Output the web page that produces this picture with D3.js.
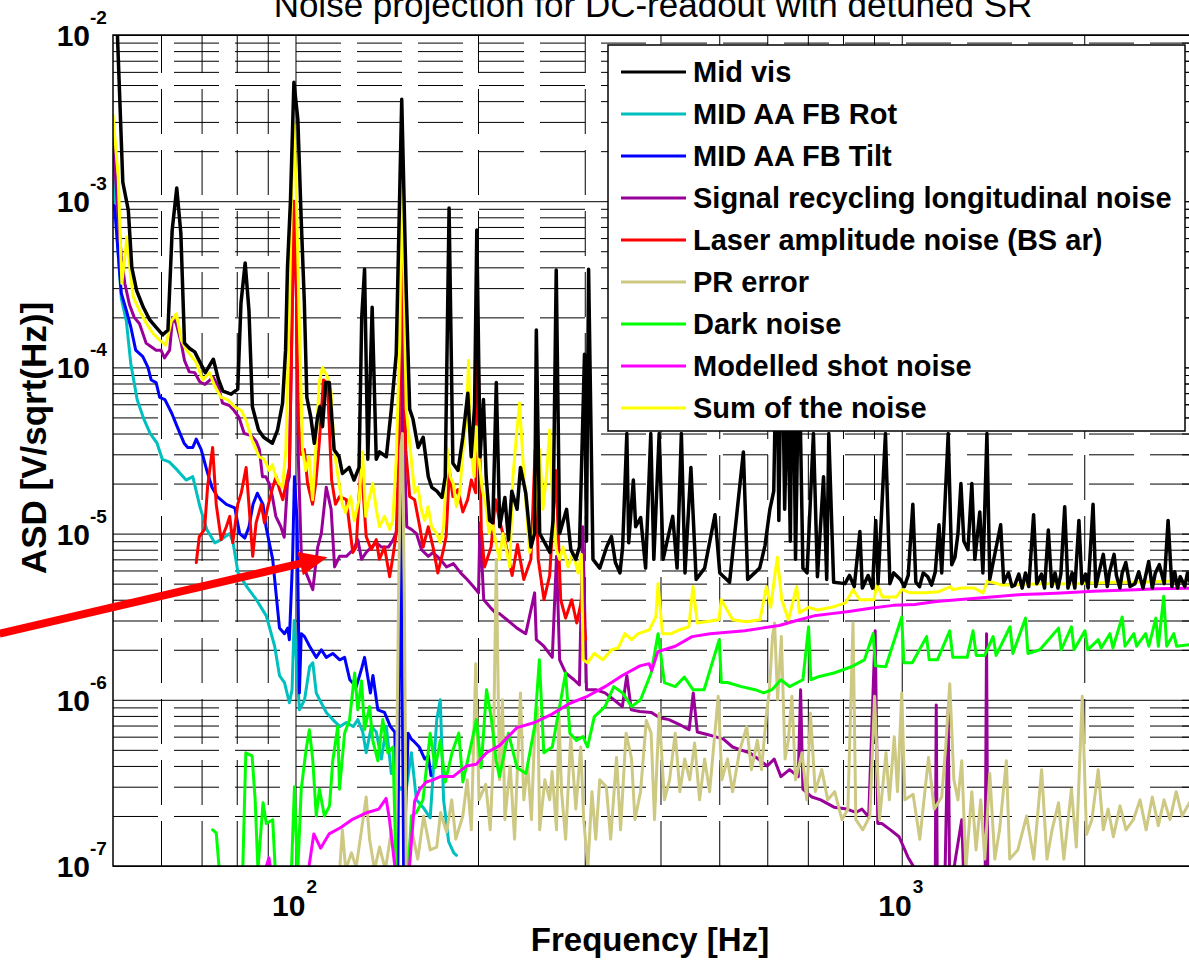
<!DOCTYPE html>
<html>
<head>
<meta charset="utf-8">
<script src="https://cdn.jsdelivr.net/npm/d3@7"></script>
<style>
  body { margin: 0; background: #fff; }
  svg { display: block; }
  text { font-family: "Liberation Sans", Arial, sans-serif; }
</style>
</head>
<body>
<script>
// axis limits and tick values
var xDomain = [50, 3000];
var yDomain = [1e-7, 1e-2];
var xMajor = [100, 1000];
var xMajorExp = ["2", "3"];
var xMinor = [60, 70, 80, 90, 200, 300, 400, 500, 600, 700, 800, 900, 2000, 3000];
var yMajor = [1e-7, 1e-6, 1e-5, 1e-4, 1e-3, 1e-2];
var yMajorExp = ["-7", "-6", "-5", "-4", "-3", "-2"];
var yMinorMult = [2, 3, 4, 5, 6, 7, 8, 9];

var title = "Noise projection for DC-readout with detuned SR";
var xLabel = "Frequency [Hz]";
var yLabel = "ASD [V/sqrt(Hz)]";

// series, [frequency Hz, ASD V/sqrt(Hz)]
var midVis = [[50.5,2e-2],[51.9,1.3e-3],[53.0,8.8e-4],[53.7,4.0e-4],[54.7,2.9e-4],[56.1,2.3e-4],[57.5,1.93e-4],[59.0,1.73e-4],[60.4,1.57e-4],[61.6,1.68e-4],[62.6,6.7e-4],[63.7,1.2e-3],[64.7,6.4e-4],[65.6,1.4e-4],[66.9,1.3e-4],[68.2,1.24e-4],[69.6,1.07e-4],[71.0,9.3e-5],[73.2,1.12e-4],[74.6,8.5e-5],[75.9,7.2e-5],[78.3,6.9e-5],[80.3,7.4e-5],[81.3,2.44e-4],[82.6,4.25e-4],[83.8,2.2e-4],[84.9,5.8e-5],[86.9,4.2e-5],[88.6,3.8e-5],[91.6,3.5e-5],[93.4,4.2e-5],[95.2,6.1e-5],[96.3,1.27e-4],[97.0,4.0e-4],[98.1,1.0e-3],[99.4,5.2e-3],[100.9,3.1e-3],[102.2,7.7e-4],[103.4,2.5e-4],[104.4,6.6e-5],[106.0,5.0e-5],[107.4,3.5e-5],[108.7,5.0e-5],[109.7,5.8e-5],[110.8,4.4e-5],[112.2,8.1e-5],[113.7,8.1e-5],[115.8,3.2e-5],[118.0,2.9e-5],[119.5,2.3e-5],[122.6,2.5e-5],[124.9,2.1e-5],[127.3,2.5e-5],[128.6,2.0e-4],[130,3.9e-4],[131.6,2.8e-5],[133.8,2.3e-4],[135.9,2.8e-5],[137.6,3.1e-5],[141.2,2.9e-5],[143.9,5.6e-5],[146.6,1.2e-4],[149.7,4.1e-3],[152.3,2.8e-4],[154.3,5.6e-5],[156.2,4.9e-5],[159.3,3.3e-5],[162.4,3.8e-5],[165.6,2.2e-5],[167.8,1.9e-5],[171.1,1.8e-5],[174.4,1.65e-5],[176.6,2.2e-5],[179.2,9.1e-4],[181.8,2.65e-5],[185.4,2.4e-5],[188.8,3.8e-5],[192.4,7.0e-5],[194.9,2.9e-5],[197.4,5.8e-5],[199.1,6.7e-4],[201.6,2.9e-5],[204.2,6.4e-5],[206.3,2.2e-5],[209,1.2e-5],[211.6,1.16e-5],[214.4,8.1e-5],[217.2,1.1e-5],[221.5,1.65e-5],[224.5,9.2e-6],[227.4,1.8e-5],[232,1.4e-5],[235,2.5e-5],[239.8,1.75e-5],[244.6,8.3e-6],[247.9,1.0e-5],[249.6,1.68e-4],[252.8,1.0e-5],[257.8,8.8e-6],[262.8,7.7e-6],[266,1.2e-5],[269.2,3.85e-4],[272.7,1.0e-5],[280,1.4e-5],[284.6,8.0e-6],[290,7.0e-6],[294,8.3e-6],[299.7,1.2e-4],[302,9e-6],[304.4,3.9e-4],[309.5,7.0e-6],[317.6,6.2e-6],[326,8.3e-6],[332,9.6e-6],[337,6.7e-6],[343,5.8e-6],[346.4,8.3e-6],[352,4.0e-5],[354.5,8.8e-6],[360.8,2.1e-5],[364,1.1e-5],[371,1.25e-5],[378,6.2e-6],[385.5,4.0e-5],[390,7.0e-6],[398,4.0e-5],[404,7.0e-6],[419,1.27e-5],[426,6.2e-6],[433,4.0e-5],[439,5.8e-6],[449,2.5e-5],[458,5.3e-6],[473,6.2e-6],[492,1.3e-5],[501,5.8e-6],[520,5.1e-6],[548,3.1e-5],[557,5.3e-6],[583,6.2e-6],[595,8.5e-6],[606,1.4e-5],[615,1.8e-5],[622,2e-4],[627,1.2e-5],[634,2.5e-4],[641,1.4e-5],[648,8.3e-5],[655,9e-6],[661,2.5e-4],[668,7e-6],[677,1.3e-4],[687,6.2e-6],[698,5.8e-6],[715,4e-5],[726,5.5e-6],[743,2.2e-5],[752,5.3e-6],[758,4e-5],[772,5.1e-6],[806,5e-6],[820,5.6e-6],[835,4.8e-6],[853,1.03e-5],[861,4.7e-6],[880,5.6e-6],[895,4.7e-6],[906,1.2e-5],[914,5e-6],[940,4e-5],[956,5e-6],[970,5.8e-6],[995,5.3e-6],[1010,4.8e-6],[1025,5.6e-6],[1043,1.5e-5],[1055,5.1e-6],[1070,4.8e-6],[1085,5.8e-6],[1104,5.5e-6],[1120,4.9e-6],[1136,5.9e-6],[1152,1.13e-5],[1164,5.8e-6],[1193,4e-5],[1209,6.5e-6],[1224,7.2e-6],[1238,1e-5],[1252,2e-5],[1266,9e-6],[1286,8e-6],[1305,2e-5],[1320,7e-6],[1345,1.35e-5],[1361,5.8e-6],[1382,4e-5],[1397,5.3e-6],[1456,1.13e-5],[1473,5.1e-6],[1500,5.8e-6],[1520,4.8e-6],[1536,4.9e-6],[1560,5.7e-6],[1580,4.7e-6],[1600,5.8e-6],[1620,4.8e-6],[1650,1.3e-5],[1670,5e-6],[1700,5.7e-6],[1720,4.7e-6],[1745,1.05e-5],[1768,4.8e-6],[1790,5.8e-6],[1810,4.7e-6],[1830,5.7e-6],[1857,1.45e-5],[1880,4.7e-6],[1910,5.8e-6],[1930,4.7e-6],[1960,1.2e-5],[1982,5e-6],[2010,5.7e-6],[2030,4.7e-6],[2068,1.5e-5],[2090,4.8e-6],[2110,5.6e-6],[2150,7.5e-6],[2183,4.8e-6],[2200,5.8e-6],[2240,7.5e-6],[2260,5.6e-6],[2290,4.7e-6],[2310,5.8e-6],[2342,6.7e-6],[2380,4.8e-6],[2425,5e-6],[2460,5.9e-6],[2500,4.7e-6],[2555,6.8e-6],[2590,4.7e-6],[2620,5.8e-6],[2660,6.5e-6],[2710,5e-6],[2750,1.2e-5],[2790,4.8e-6],[2820,5.9e-6],[2850,4.7e-6],[2880,5.5e-6],[2930,4.8e-6],[2960,5.8e-6],[3000,4.9e-6]];

var aaRot = [[50,2.0e-3],[50.6,8.3e-4],[51.1,4.3e-4],[51.6,2.6e-4],[52.6,1.9e-4],[53.5,1.05e-4],[54.8,6.4e-5],[56.2,4.9e-5],[57.6,4.0e-5],[59.1,3.5e-5],[60.3,2.8e-5],[61.9,2.7e-5],[63.9,2.4e-5],[66.0,2.1e-5],[67.7,2.2e-5],[69.6,1.44e-5],[71.4,1.06e-5],[73.6,8.8e-6],[75.4,9.2e-6],[77.9,1.0e-5],[78.9,8.8e-6],[80.4,5.8e-6],[83.1,4.8e-6],[86.2,4.0e-6],[89.5,3.2e-6],[92.4,2.1e-6],[94.1,1.4e-6],[95.9,1.27e-6],[97.7,9.6e-7],[98.7,1.15e-6],[99.5,3.0e-6],[101.5,8.7e-7],[103.5,1.0e-6],[105.5,1.58e-6],[106.8,1.67e-6],[108.2,1.1e-6],[109.6,1.0e-6],[112.4,8.4e-7],[115.2,7.6e-7],[118.4,6.9e-7],[121.3,7.3e-7],[124.5,6.9e-7],[126.7,7.6e-7],[129.1,6.4e-7],[130.8,4.8e-7],[133.4,6.9e-7],[135.9,6.4e-7],[138.6,4.4e-7],[141.2,6.9e-7],[143.9,3.6e-7],[145.8,3.6e-7],[148.5,2.9e-7],[152.3,2.9e-7],[155.3,4.8e-7],[158.3,2.5e-7],[162.4,2.25e-7],[166.8,1.95e-7],[171,7.6e-7],[173.3,1.0e-6],[175.5,2.5e-7],[178.9,1.4e-7],[182.4,1.2e-7],[184.3,1.16e-7]];

var aaTilt = [[50,9.5e-4],[50.3,9.3e-4],[50.9,5.3e-4],[51.6,2.8e-4],[52.6,2.2e-4],[53.5,1.75e-4],[54.5,1.27e-4],[56,1.16e-4],[57.1,1.0e-4],[57.8,8.4e-5],[58.9,8.1e-5],[59.7,6.6e-5],[60.9,6.4e-5],[62.5,5.3e-5],[63.8,4.4e-5],[65.5,3.5e-5],[66.4,3.3e-5],[67.7,3.3e-5],[68.6,3.7e-5],[69.9,3.2e-5],[71.4,2.4e-5],[72.8,1.9e-5],[74.3,1.67e-5],[76.9,1.5e-5],[79.4,1.43e-5],[80.9,1.0e-5],[82.5,9.4e-6],[83.8,1.1e-5],[85.1,1.5e-5],[86.5,1.75e-5],[88.4,1.5e-5],[89.4,1.1e-5],[91.7,7.0e-6],[94.1,2.7e-6],[95.9,2.5e-6],[97.1,2.7e-6],[97.7,2.3e-6],[98.9,7e-6],[99.6,2.2e-5],[100.6,1.2e-5],[101.5,1.1e-6],[102.2,2.5e-6],[103.5,2.4e-6],[105.5,2.1e-6],[108.2,1.8e-6],[110.3,2.0e-6],[112.4,1.8e-6],[115.2,1.9e-6],[118.3,1.74e-6],[120.5,1.8e-6],[122.9,1.32e-6],[126.0,1.2e-6],[128.6,1.55e-6],[130,1.8e-6],[132.9,1.1e-6],[134.2,1.4e-6],[136.7,8.7e-7],[140.2,8.4e-7],[143.4,6.9e-7],[145.8,6.4e-7],[147.5,9.5e-8],[149.1,2.4e-5],[150.8,9.5e-8],[153.4,6.3e-7],[155.3,5.8e-7],[157,5.6e-7],[160,5.2e-7],[163.4,4.4e-7],[165.6,4.6e-7],[167.3,3.5e-7]];

var srLong = [[50,2.4e-3],[51,8.0e-4],[51.6,4.7e-4],[52.3,3.2e-4],[53.2,2.4e-4],[54.2,2.0e-4],[55.3,1.83e-4],[56.7,1.4e-4],[57.8,1.33e-4],[58.9,1.27e-4],[60.0,1.27e-4],[60.8,1.14e-4],[62,1.27e-4],[62.7,2.0e-4],[63.6,1.83e-4],[64.8,1.4e-4],[65.6,1.1e-4],[66.8,9.4e-5],[68.2,9.3e-5],[69.5,8.2e-5],[70.9,7.9e-5],[72.3,8.4e-5],[73.1,8.8e-5],[74.6,7.7e-5],[75.8,6.1e-5],[77.8,5.9e-5],[79.2,5.5e-5],[80.7,5.0e-5],[82.3,4.0e-5],[84.4,3.9e-5],[86.1,3.6e-5],[87.2,3.2e-5],[88.2,2.2e-5],[89.3,2.2e-5],[90.5,2.0e-5],[91.6,1.67e-5],[92.8,1.27e-5],[94.6,1.1e-5],[95.8,9.5e-6],[97,2.0e-5],[97.7,2.2e-5],[98.5,1.27e-4],[99.4,1.0e-3],[100.4,2.5e-4],[101.1,2.8e-5],[102.2,7.7e-6],[104.1,5.8e-6],[106.8,4.6e-6],[108.8,8.3e-6],[110.3,1.0e-5],[112.4,1.9e-5],[114.5,1.4e-5],[116,6.3e-6],[118.2,7.3e-6],[121.3,7.3e-6],[123.6,7.8e-6],[125.2,8.3e-6],[126.7,9.2e-6],[128.5,7.0e-6],[130.8,7.7e-6],[133.4,8.3e-6],[136,8.8e-6],[138.6,8.3e-6],[142.3,8.3e-6],[145.0,9.2e-6],[147.8,1.1e-5],[149.7,4.0e-5],[150.5,2.5e-4],[151.6,2.4e-5],[152.6,1.1e-5],[155.3,1.06e-5],[158.3,1.0e-5],[161.4,8e-6],[165.6,7.3e-6],[168.6,7.7e-6],[173.3,7.0e-6],[177.5,6.3e-6],[182.2,6.6e-6],[187.2,5.8e-6],[191.9,5.3e-6],[196.5,4.8e-6],[200.4,4.4e-6],[201.5,1.16e-5],[204.4,4.0e-6],[209.5,3.6e-6],[214.4,3.3e-6],[217,3.3e-6],[224,3.0e-6],[231.9,2.7e-6],[239.8,2.5e-6],[248,4.4e-6],[249.6,2.3e-6],[256.8,2.1e-6],[265.2,1.8e-6],[269.5,7.3e-6],[272.7,1.74e-6],[279,1.45e-6],[288,1.32e-6],[294,1.23e-6],[297.8,1.1e-5],[302,1.15e-6],[313,1.15e-6],[324,1.1e-6],[335,1.0e-6],[346,9.1e-7],[352,1.4e-6],[358,8.7e-7],[370,8.5e-7],[386,8.4e-7],[399,7.8e-7],[413,7.6e-7],[430,7.1e-7],[446,6.6e-7],[453,1.1e-6],[460,6.4e-7],[476,6.2e-7],[492,6.0e-7],[508,5.8e-7],[526,5.2e-7],[542,5.0e-7],[561,4.8e-7],[580,4.4e-7],[600,4.0e-7],[616,4.4e-7],[632,3.45e-7],[653,3.8e-7],[675,3.45e-7],[681,1.15e-6],[687,2.9e-7],[711,2.6e-7],[735,2.5e-7],[773,2.26e-7],[812,2.2e-7],[840,2.1e-7],[860,2.2e-7],[882,1.97e-7],[904,2.6e-6],[913,1.8e-7],[927,1.8e-7],[958,1.65e-7],[990,1.5e-7],[1024,1.13e-7],[1050,9.7e-8],[1070,8e-8],[1112,6e-8],[1136,9.5e-8],[1140,9.3e-7],[1145,6e-8],[1178,8e-8],[1193,8.7e-7],[1200,6e-8],[1224,1.06e-7],[1256,1.9e-7],[1266,8e-8],[1372,6e-8],[1380,2.5e-6],[1387,6e-8],[1455,6e-8]];

var laserAmp = [[68.6,6.7e-6],[69.4,9.6e-6],[70.8,1.06e-5],[71.6,1.9e-5],[73,3.3e-5],[74,1.5e-5],[75.4,9.2e-6],[76.9,1.1e-5],[77.9,1.27e-5],[78.8,8.8e-6],[80.3,1.5e-5],[81.4,1.76e-5],[82.9,2.5e-5],[83.9,1.4e-5],[85,7.3e-6],[86.1,1.16e-5],[87.8,1.5e-5],[88.9,1.16e-5],[90,1.45e-5],[91.7,1.9e-5],[92.9,2.2e-5],[94.1,1.84e-5],[95.3,1.6e-5],[96.5,2.0e-5],[97.7,2.5e-5],[98.5,1.27e-4],[99.4,1.0e-3],[100.4,2.5e-4],[101.1,4.8e-5],[102.3,3.0e-5],[103.4,3.2e-5],[104.7,2.0e-5],[106.7,1.5e-5],[108,2.0e-5],[109.5,3.6e-5],[111.2,8.4e-5],[112.9,8.0e-5],[114.7,2.1e-5],[116.4,1.5e-5],[118.2,1.67e-5],[121.3,1.6e-5],[124.3,7.7e-6],[125.9,8.3e-6],[128.3,2.7e-5],[130.8,9.6e-6],[133.3,8.0e-6],[135.9,9.2e-6],[137.5,7.0e-6],[140.2,8.3e-6],[143,5.5e-6],[144.8,7.3e-6],[146.6,1.0e-5],[148,2.8e-5],[149.5,1.0e-3],[150.6,2.5e-4],[152,3.2e-5],[154.3,1.67e-5],[157.2,1.6e-5],[160.3,1.1e-5],[162.4,8.3e-6],[165.6,1.1e-5],[168.6,8.3e-6],[171.7,5.8e-6],[175,7.7e-6],[177.2,9.6e-6],[179.4,2.4e-5],[181.8,1.67e-5],[185.3,1.84e-5],[188.8,1.35e-5],[192.3,1.6e-5],[195,2.1e-5],[198.3,1.76e-5],[199.5,2.5e-4],[202.5,1.06e-5],[205,6.3e-6],[210.2,8.3e-6],[213.7,1.6e-5],[217,1.2e-5],[222.3,8.6e-6],[227.7,5.6e-6],[232.4,8.6e-6],[238,5.3e-6],[244.5,7.0e-6],[248.5,3.2e-5],[251.4,7e-6],[257,4e-6],[262.6,5.6e-6],[268.8,2.4e-5],[273.8,4e-6],[279,3.1e-6],[285.5,4.0e-6],[291,2.9e-6],[296.5,4e-6],[301,2.3e-6]];

var prError = [[118.4,1e-7],[119.5,1.65e-7],[121,9.5e-8],[123.7,1.2e-7],[125.9,9.8e-8],[128.5,1.65e-7],[130.8,2.6e-7],[132.5,1.45e-7],[135,9.5e-8],[137.6,1.3e-7],[140.7,9.5e-8],[144,1.65e-7],[146.2,1e-7],[147.9,4e-6],[149.1,3.2e-5],[150.1,4e-5],[151.2,4e-6],[152.3,1e-7],[155.5,1.65e-7],[159.1,1.1e-7],[162.7,2e-7],[166.8,1.25e-7],[171,1.3e-7],[173.5,2.1e-7],[177.5,1.6e-7],[181,2.5e-7],[183.8,1.45e-7],[188.8,2e-7],[192,3.3e-7],[195,1.65e-7],[198.3,1.65e-6],[200.8,2.5e-7],[206,3.1e-7],[209.5,1.65e-7],[212,4.5e-7],[214.4,7e-6],[217,3.3e-7],[219.5,1.0e-6],[221.5,1.9e-7],[226,4e-7],[229.8,1.45e-7],[235,1.1e-6],[238,2.5e-7],[241.6,4e-7],[245,1.9e-7],[248,6.3e-7],[251,9e-7],[252.8,1.65e-7],[257.8,3.3e-7],[262.6,2.5e-7],[265,3.7e-7],[269.5,1.65e-7],[272,8e-7],[274.7,2.8e-7],[279,1.45e-7],[284.4,6e-7],[290,2.2e-7],[295.5,5.2e-7],[298.8,1.9e-7],[303.6,9.8e-8],[308.3,2.8e-7],[312.8,1.45e-7],[317.6,3.3e-7],[325.6,3e-7],[331,1.45e-7],[338.5,4.5e-7],[343.7,1.65e-7],[351,6.3e-7],[358.4,4.4e-7],[363,1.9e-7],[370.8,2.8e-7],[379,7.5e-7],[386,6.3e-7],[391,1.9e-7],[398,8.3e-7],[406,2.5e-7],[414,3.3e-7],[423,6.3e-7],[430.5,2.8e-7],[438.5,4.4e-7],[447,3.3e-7],[455.4,5.5e-7],[464,2.5e-7],[473,4.4e-7],[482,2.8e-7],[498,1.05e-6],[505,3.3e-7],[516,4.4e-7],[526,2.8e-7],[540,4.9e-7],[555,6.9e-7],[565,3.8e-7],[578,5.7e-7],[587,3.8e-7],[597.5,7.8e-7],[605,1.15e-6],[612,2.4e-6],[617,2.9e-6],[624,1e-6],[633,2.4e-6],[642,4.4e-7],[650,5.7e-7],[659,1.05e-6],[668,3.3e-7],[685,4.8e-7],[697,2.5e-7],[707,8.3e-7],[720,2.8e-7],[738,3.8e-7],[755,2.5e-7],[775,2.8e-7],[797,1.9e-7],[815,2.2e-7],[831,2.9e-6],[840,1.9e-7],[862.5,1.65e-7],[886,2e-7],[902,1.05e-6],[919,1.9e-7],[942,4.8e-7],[954,2.5e-7],[972,6e-7],[984,2.8e-7],[1000,1.1e-6],[1012,2.5e-7],[1044,2.7e-7],[1071,1.45e-7],[1107,4.5e-7],[1131,2.2e-7],[1164,2.6e-7],[1182,5.3e-7],[1200,1.25e-6],[1219,3.3e-7],[1238,2.5e-7],[1256,4.3e-7],[1276,9.7e-8],[1305,2.8e-7],[1326,1.25e-7],[1350,2.5e-7],[1371,1.1e-7],[1397,3.6e-7],[1424,1.1e-7],[1450,1.65e-7],[1488,4.3e-7],[1507,1.1e-7],[1554,1.25e-7],[1607,2e-7],[1651,1.1e-7],[1701,3.8e-7],[1736,1.1e-7],[1770,1.65e-7],[1814,2.4e-7],[1851,1.1e-7],[1905,2.9e-7],[1941,1.3e-7],[1985,1.05e-6],[2017,1.55e-7],[2059,1.9e-7],[2109,3.8e-7],[2150,1.65e-7],[2190,2.2e-7],[2234,1.5e-7],[2291,2.3e-7],[2344,1.65e-7],[2410,1.9e-7],[2472,2.5e-7],[2530,1.65e-7],[2590,2.6e-7],[2650,1.75e-7],[2708,2.5e-7],[2770,1.9e-7],[2836,2.8e-7],[2900,2e-7],[3000,2.5e-7]];

var darkNoise = [[73,1.65e-7],[74,1.58e-7],[75,8.8e-8],[81.8,8.8e-8],[82.8,4.8e-7],[84.8,4.6e-7],[85.8,2.5e-7],[86.7,9.5e-8],[88.4,2.4e-7],[89.5,1.8e-7],[91.7,1.9e-7],[92.7,8.8e-8],[98.4,8.8e-8],[99.6,3e-7],[100.8,8.8e-8],[102.2,2.9e-7],[104.1,5e-7],[105.4,6.6e-7],[106.8,4.3e-7],[108.2,2e-7],[109.5,2.9e-7],[111.6,2e-7],[113.8,2.3e-7],[115.2,4.3e-7],[117.4,6.9e-7],[118.2,2.9e-7],[120.5,6.3e-7],[122.8,7.6e-7],[125.2,1.45e-6],[126.7,8.7e-7],[128.5,1.3e-6],[130,6.6e-7],[132.5,9.1e-7],[134.1,5.7e-7],[136.7,4.3e-7],[139.3,7.6e-7],[142,4.8e-7],[144.8,5.2e-7],[146.6,8.8e-8],[153.4,8.8e-8],[155.3,2e-7],[158.3,2.1e-7],[162.3,2.5e-7],[166.8,6.3e-7],[170,3.9e-7],[173.3,5.7e-7],[176.6,3.2e-7],[181.2,4.8e-7],[185.9,6.3e-7],[188.8,3.2e-7],[194,5e-7],[198.8,7.6e-7],[202.4,3.9e-7],[206.6,1.15e-6],[210.5,7.6e-7],[214.3,4.3e-7],[217,3.45e-7],[224.5,6.3e-7],[232,3.9e-7],[240,3.6e-7],[248,6.9e-7],[252.5,1.74e-6],[256.8,4.8e-7],[265.2,5.2e-7],[279,1.45e-6],[283.5,6.3e-7],[290.7,5.7e-7],[298,6e-7],[303.2,5.2e-7],[311,7.9e-7],[324,9.1e-7],[335,1.2e-6],[346.4,1.1e-6],[358.4,9.1e-7],[370.8,1e-6],[386,1.45e-6],[396.3,2.5e-6],[406,1.27e-6],[423,1.2e-6],[438,1.37e-6],[452.5,1.15e-6],[472,1.15e-6],[500,2.3e-6],[504,1.27e-6],[516,1.27e-6],[543.8,1.2e-6],[573,1.15e-6],[592,1.1e-6],[611,1.15e-6],[632,1.32e-6],[653,1.2e-6],[687,1.32e-6],[702,2.75e-6],[708,1.32e-6],[726,1.37e-6],[773,1.45e-6],[826,1.58e-6],[868,1.74e-6],[897,2.5e-6],[905,1.6e-6],[941,1.58e-6],[1000,3.15e-6],[1008,1.67e-6],[1041,1.67e-6],[1099,2.4e-6],[1110,1.74e-6],[1145,1.74e-6],[1200,2.6e-6],[1214,1.8e-6],[1282,1.8e-6],[1311,2.6e-6],[1327,1.85e-6],[1370,1.85e-6],[1415,2.4e-6],[1431,1.85e-6],[1509,2.75e-6],[1525,1.9e-6],[1600,3.1e-6],[1615,1.9e-6],[1690,2e-6],[1814,2.7e-6],[1833,2e-6],[1905,2.75e-6],[1924,2e-6],[2005,2.6e-6],[2027,2e-6],[2110,2.3e-6],[2133,2.05e-6],[2205,2.5e-6],[2230,2.05e-6],[2310,3.15e-6],[2335,2.1e-6],[2415,2.5e-6],[2440,2.1e-6],[2525,2.5e-6],[2556,2.1e-6],[2625,3.1e-6],[2650,2.1e-6],[2705,4.2e-6],[2735,2.1e-6],[2810,2.5e-6],[2840,2.1e-6],[3000,2.15e-6]];

var shotNoise = [[87.9,8e-8],[90.4,1.12e-7],[92,7.2e-8],[97.7,6e-8],[103.5,7.2e-8],[105.3,1.0e-7],[107.2,1.56e-7],[110,1.28e-7],[113.6,1.56e-7],[118.6,1.7e-7],[123.9,1.9e-7],[131.4,2.1e-7],[137.2,2.2e-7],[141.1,2.55e-7],[142.9,1.9e-7],[145.8,1.0e-7],[147.5,6e-8],[153.4,6e-8],[154.2,1.0e-7],[157.2,2.45e-7],[160.3,2.9e-7],[164.3,3.2e-7],[168.6,3.3e-7],[173.3,3.45e-7],[182,3.45e-7],[191.5,4e-7],[198.7,4.1e-7],[206.6,4.8e-7],[217,5.3e-7],[232,6.8e-7],[248,7.3e-7],[265,8.2e-7],[283,9.5e-7],[303,1.05e-6],[324,1.2e-6],[346,1.4e-6],[370,1.6e-6],[383,1.65e-6],[387,1.5e-6],[396,1.95e-6],[423,2.1e-6],[451,2.4e-6],[483,2.5e-6],[516,2.55e-6],[551,2.6e-6],[588,2.7e-6],[628,2.8e-6],[671,3.0e-6],[717,3.2e-6],[766,3.3e-6],[818,3.4e-6],[888,3.55e-6],[968,3.7e-6],[1050,3.75e-6],[1140,3.9e-6],[1236,4.0e-6],[1342,4.1e-6],[1456,4.2e-6],[1580,4.3e-6],[1720,4.35e-6],[1865,4.4e-6],[2070,4.5e-6],[2240,4.55e-6],[2430,4.6e-6],[2640,4.65e-6],[3000,4.7e-6]];

var sumNoise = [[50,3.3e-3],[51,1.4e-3],[51.7,3.2e-4],[52.4,4.9e-4],[52.7,6.1e-4],[53.4,3.7e-4],[54,2.65e-4],[55.3,2.2e-4],[56.8,1.83e-4],[58.2,1.6e-4],[59.7,1.46e-4],[61.1,1.36e-4],[62.4,1.9e-4],[63.6,2.1e-4],[64.8,1.46e-4],[66.1,1.27e-4],[67.4,1.16e-4],[68.6,1.07e-4],[70.3,8.4e-5],[72.1,9.3e-5],[73.6,7.7e-5],[75.4,6.6e-5],[77.3,6.4e-5],[79.3,5.8e-5],[81.4,5.5e-5],[82.9,4.8e-5],[84.9,3.6e-5],[87.1,2.9e-5],[88.8,2.8e-5],[90.5,2.4e-5],[91.6,2.6e-5],[92.8,2.2e-5],[94,2.0e-5],[95.2,1.9e-5],[96.4,3.2e-5],[97.6,2.0e-4],[98.5,1.0e-3],[99.4,2.9e-3],[100.4,1.0e-3],[101.4,2.0e-4],[102.7,3.2e-5],[104,2.4e-5],[105.3,2.9e-5],[106.7,1.6e-5],[108,3.2e-5],[109.4,8.1e-5],[110.8,1.0e-4],[112.9,8.8e-5],[114.4,7.3e-5],[115.8,3.2e-5],[118,2.0e-5],[119.5,1.5e-5],[121,1.34e-5],[123.3,1.67e-5],[125,1.2e-5],[127.3,1.6e-5],[129,3.1e-5],[130.6,1.27e-5],[131.6,1.5e-5],[134.1,2.0e-5],[135.9,1.4e-5],[137.6,1.1e-5],[140.2,1.27e-5],[143,1.06e-5],[144.7,1.2e-5],[146.6,2.8e-5],[148.5,1.4e-4],[149.7,1.3e-3],[150.8,4.4e-4],[152.3,5.6e-5],[154.3,3.5e-5],[157.2,1.76e-5],[159.2,1.9e-5],[161.2,1.4e-5],[163.3,1.2e-5],[165.4,1.45e-5],[167.7,1.1e-5],[171,1.0e-5],[173.3,8.8e-6],[175.5,1.1e-5],[177.7,3.3e-5],[179.9,2.2e-5],[182.1,2.0e-5],[184.3,1.45e-5],[186.6,1.76e-5],[188.8,3.1e-5],[191.2,4.8e-5],[193,1.1e-4],[194.7,3.2e-5],[197.1,2.2e-5],[198.8,4.4e-5],[200.8,2.8e-5],[203.3,1.84e-5],[205.9,1.5e-5],[208.6,1.0e-5],[211.3,1.16e-5],[214.1,8.8e-6],[217,7.0e-6],[219.8,1.0e-5],[222.7,8.0e-6],[225.6,6.3e-6],[228.4,2.2e-5],[231.3,3.8e-5],[234.2,6.1e-5],[237.2,2.8e-5],[240.3,1.4e-5],[243.4,7.7e-6],[246.4,9.2e-6],[249.7,1.76e-5],[252.8,3.2e-5],[255.9,1.4e-5],[259.3,2.2e-5],[262.6,4.2e-5],[265.8,1.4e-5],[269.3,8.0e-6],[272.7,7.0e-6],[276.2,8.3e-6],[281.5,6.3e-6],[286.8,7.7e-6],[292.4,5.8e-6],[296.2,7.5e-6],[298.2,1.74e-6],[303.2,1.67e-6],[311,1.9e-6],[321.4,1.74e-6],[332.2,2.0e-6],[340.7,2.05e-6],[349.4,2.5e-6],[358.4,2.3e-6],[367.6,2.5e-6],[383.3,2.64e-6],[393,3.16e-6],[396.3,5.0e-6],[403,2.5e-6],[416.4,2.5e-6],[430.5,2.64e-6],[445.4,2.75e-6],[452.5,4.8e-6],[460,2.9e-6],[475,2.95e-6],[499.3,3.03e-6],[503.7,4.0e-6],[526,3.03e-6],[554,2.95e-6],[583.5,3.03e-6],[598.2,4.8e-6],[608,3.6e-6],[618.3,5.8e-6],[623.5,7.2e-6],[634,4.0e-6],[650.2,3.03e-6],[671,4.8e-6],[678.4,3.34e-6],[702,3.6e-6],[726.7,3.47e-6],[766,3.6e-6],[808,3.83e-6],[831,4.6e-6],[852.7,4.0e-6],[899.8,4.0e-6],[910,5.0e-6],[928.7,4.16e-6],[979.7,4.16e-6],[1000,4.6e-6],[1033,4.4e-6],[1090,4.4e-6],[1150,4.47e-6],[1205,4.8e-6],[1212,4.6e-6],[1253,4.7e-6],[1317,4.7e-6],[1362,4.4e-6],[1385,5.2e-6],[1461,4.9e-6],[1624,4.95e-6],[1692,5.0e-6],[1786,5.0e-6],[1903,5.0e-6],[2068,5.05e-6],[2247,5.1e-6],[2444,5.1e-6],[2658,5.15e-6],[3000,5.2e-6]];

var seriesNames = ["Mid vis", "MID AA FB Rot", "MID AA FB Tilt", "Signal recycling longitudinal noise",
  "Laser amplitude noise (BS ar)", "PR error", "Dark noise", "Modelled shot noise", "Sum of the noise"];
var seriesData = [midVis, aaRot, aaTilt, srLong, laserAmp, prError, darkNoise, shotNoise, sumNoise];
var seriesColors = ["#000000", "#00bfbf", "#0000ff", "#990099", "#ff0000", "#cdc882", "#00ff00", "#ff00ff", "#ffff00"];
var seriesWidths = [3.5, 3, 3, 3, 3, 3, 3, 3, 3];
// black drawn last so it sits over the sum curve
var drawOrder = [1, 2, 3, 4, 5, 6, 7, 8, 0];

// red annotation arrow, in data units (tail lies left of the axes)
var arrowFrom = [32.5, 2.5e-6];
var arrowTo = [112.9, 7.2e-6];

var width = 1189, height = 963;
var pLeft = 113, pRight = 1191, pTop = 35, pBottom = 866;

var svg = d3.select("body").append("svg")
    .attr("width", width)
    .attr("height", height);

var x = d3.scaleLog().domain(xDomain).range([pLeft, pRight]);
var y = d3.scaleLog().domain(yDomain).range([pBottom, pTop]);

svg.append("defs").append("clipPath").attr("id", "plotclip")
  .append("rect").attr("x", pLeft).attr("y", pTop)
  .attr("width", pRight - pLeft).attr("height", pBottom - pTop);

var yMinor = [];
yMajor.slice(0, -1).forEach(function(d) {
  yMinorMult.forEach(function(m) { yMinor.push(d * m); });
});

// grid: minor dashed, major solid
var grid = svg.append("g");
function styleGrid(g, dashed) {
  g.select(".domain").remove();
  g.selectAll("line").attr("stroke", "#000").attr("stroke-width", 1)
    .attr("stroke-dasharray", dashed ? "45,16" : null);
}
grid.append("g").attr("transform", "translate(0," + pBottom + ")")
  .call(d3.axisBottom(x).tickValues(xMinor).tickSize(-(pBottom - pTop)).tickFormat(""))
  .call(styleGrid, true);
grid.append("g").attr("transform", "translate(" + pLeft + ",0)")
  .call(d3.axisLeft(y).tickValues(yMinor).tickSize(-(pRight - pLeft)).tickFormat(""))
  .call(styleGrid, true);
grid.append("g").attr("transform", "translate(0," + pBottom + ")")
  .call(d3.axisBottom(x).tickValues(xMajor).tickSize(-(pBottom - pTop)).tickFormat(""))
  .call(styleGrid, false);
grid.append("g").attr("transform", "translate(" + pLeft + ",0)")
  .call(d3.axisLeft(y).tickValues(yMajor).tickSize(-(pRight - pLeft)).tickFormat(""))
  .call(styleGrid, false);

// inward ticks on the right edge (only their tips show)
svg.append("g").attr("transform", "translate(" + pRight + ",0)")
  .call(d3.axisLeft(y).tickValues(yMajor.concat(yMinor)).tickSize(9).tickFormat(""))
  .call(function(g) { g.select(".domain").remove(); g.selectAll("line").attr("stroke", "#000"); });

// curves
var line = d3.line()
  .x(function(d) { return x(d[0]); })
  .y(function(d) { return y(d[1]); });

var curves = svg.append("g").attr("clip-path", "url(#plotclip)");
drawOrder.forEach(function(i) {
  var data = seriesData[i].slice().sort(function(a, b) { return a[0] - b[0]; });
  curves.append("path")
    .datum(data)
    .attr("d", line)
    .attr("fill", "none")
    .attr("stroke", seriesColors[i])
    .attr("stroke-width", seriesWidths[i])
    .attr("stroke-linejoin", "round")
    .attr("stroke-linecap", "round");
});

// axes box
svg.append("path")
  .attr("d", "M" + pRight + "," + pTop + "H" + pLeft + "V" + pBottom + "H" + pRight)
  .attr("fill", "none").attr("stroke", "#000").attr("stroke-width", 1.5);

// tick labels 10^n
var yt = svg.append("g");
yMajor.forEach(function(v, i) {
  yt.append("text").attr("x", 90).attr("y", y(v) + 11)
    .attr("text-anchor", "end").attr("font-size", 30).attr("font-weight", "bold").text("10");
  yt.append("text").attr("x", 90).attr("y", y(v) - 11)
    .attr("font-size", 19).attr("font-weight", "bold").text(yMajorExp[i]);
});
var xt = svg.append("g");
xMajor.forEach(function(f, i) {
  xt.append("text").attr("x", x(f) + 10).attr("y", 916)
    .attr("text-anchor", "end").attr("font-size", 30).attr("font-weight", "bold").text("10");
  xt.append("text").attr("x", x(f) + 11).attr("y", 893)
    .attr("font-size", 19).attr("font-weight", "bold").text(xMajorExp[i]);
});

// axis labels and title
svg.append("text").attr("x", 650).attr("y", 951)
  .attr("text-anchor", "middle").attr("font-size", 33).attr("font-weight", "bold").text(xLabel);
svg.append("text").attr("transform", "translate(46,438) rotate(-90)")
  .attr("text-anchor", "middle").attr("font-size", 35).attr("font-weight", "bold").text(yLabel);
svg.append("text").attr("x", 653).attr("y", 17)
  .attr("text-anchor", "middle").attr("font-size", 35).text(title);

// legend
var leg = svg.append("g");
leg.append("rect").attr("x", 608).attr("y", 45).attr("width", 577).attr("height", 386)
  .attr("fill", "#fff").attr("stroke", "#000").attr("stroke-width", 1.5);
seriesNames.forEach(function(name, i) {
  var ry = 72 + i * 42;
  leg.append("line").attr("x1", 621).attr("x2", 686).attr("y1", ry).attr("y2", ry)
    .attr("stroke", seriesColors[i]).attr("stroke-width", 3);
  leg.append("text").attr("x", 693).attr("y", ry + 10)
    .attr("font-size", 29).attr("font-weight", "bold").text(name);
});

// red arrow
var ax0 = x(arrowFrom[0]), ay0 = y(arrowFrom[1]);
var ax1 = x(arrowTo[0]), ay1 = y(arrowTo[1]);
var len = Math.hypot(ax1 - ax0, ay1 - ay0);
var ux = (ax1 - ax0) / len, uy = (ay1 - ay0) / len;
var headLen = 28, headHalf = 12;
var bx = ax1 - ux * headLen, by = ay1 - uy * headLen;
svg.append("line").attr("x1", ax0).attr("y1", ay0).attr("x2", bx + ux * 2).attr("y2", by + uy * 2)
  .attr("stroke", "#ff0000").attr("stroke-width", 8);
svg.append("path")
  .attr("d", "M" + ax1 + "," + ay1 +
    "L" + (bx - uy * headHalf) + "," + (by + ux * headHalf) +
    "L" + (bx + uy * headHalf) + "," + (by - ux * headHalf) + "Z")
  .attr("fill", "#ff0000");
</script>
</body>
</html>
